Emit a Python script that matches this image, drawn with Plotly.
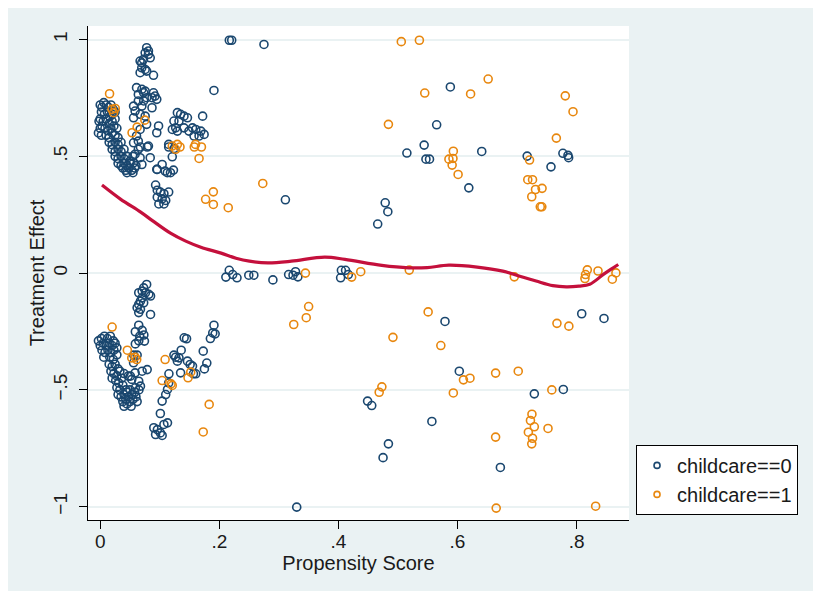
import plotly.graph_objects as go

# ---------------- data (propensity score, treatment effect) ----------------
# childcare == 0
cc0_upper = [
    (0.000, 0.72), (0.003, 0.71), (0.006, 0.73), (0.010, 0.72), (0.014, 0.71), (0.018, 0.72), (0.022, 0.70),
    (0.002, 0.69), (0.007, 0.68), (0.012, 0.69), (0.016, 0.67), (0.020, 0.68), (0.025, 0.69),
    (0.000, 0.66), (0.005, 0.65), (0.010, 0.66), (0.015, 0.64), (0.020, 0.65), (0.025, 0.66),
    (0.003, 0.63), (0.008, 0.62), (0.013, 0.61), (0.018, 0.62), (0.023, 0.63), (0.028, 0.62),
    (0.010, 0.59), (0.015, 0.58), (0.020, 0.60), (0.025, 0.59), (0.030, 0.58),
    (0.015, 0.56), (0.020, 0.55), (0.025, 0.56), (0.030, 0.55), (0.035, 0.56),
    (0.020, 0.53), (0.025, 0.52), (0.030, 0.53), (0.035, 0.52), (0.040, 0.53),
    (0.025, 0.50), (0.030, 0.49), (0.035, 0.50), (0.040, 0.49), (0.045, 0.50),
    (0.030, 0.47), (0.035, 0.46), (0.040, 0.47), (0.045, 0.46), (0.050, 0.47),
    (0.038, 0.45), (0.043, 0.44), (0.048, 0.45), (0.053, 0.44), (0.058, 0.45),
    (0.045, 0.43), (0.055, 0.43), (0.060, 0.46), (0.050, 0.48), (0.055, 0.50),
    (0.000, 0.62), (0.002, 0.59), (-0.002, 0.65), (-0.003, 0.60),
    (0.078, 0.965), (0.081, 0.951), (0.0755, 0.943), (0.0726, 0.915), (0.0698, 0.900), (0.067, 0.908),
    (0.0698, 0.879), (0.0755, 0.872), (0.078, 0.865), (0.067, 0.858), (0.0895, 0.847), (0.081, 0.937), (0.084, 0.922),
    (0.061, 0.794), (0.070, 0.787), (0.073, 0.772), (0.064, 0.765), (0.0755, 0.779), (0.0895, 0.772),
    (0.092, 0.758), (0.095, 0.744), (0.087, 0.751), (0.078, 0.751), (0.073, 0.737), (0.064, 0.737),
    (0.056, 0.715), (0.070, 0.715), (0.087, 0.708), (0.0586, 0.694), (0.067, 0.680), (0.0755, 0.672),
    (0.056, 0.665), (0.098, 0.630), (0.095, 0.601), (0.067, 0.615), (0.078, 0.637), (0.061, 0.587),
    (0.081, 0.544), (0.064, 0.565), (0.056, 0.558), (0.064, 0.530), (0.0586, 0.509), (0.067, 0.494),
    (0.084, 0.494), (0.056, 0.472), (0.070, 0.465), (0.095, 0.444), (0.109, 0.437), (0.104, 0.465),
    (0.0676, 0.540), (0.079, 0.540),
    (0.191, 0.782),
    (0.1296, 0.687), (0.135, 0.680), (0.1407, 0.672), (0.1465, 0.665), (0.1323, 0.651), (0.1238, 0.651),
    (0.1267, 0.622), (0.1211, 0.615), (0.1296, 0.608), (0.1407, 0.622), (0.149, 0.608),
    (0.155, 0.622), (0.1605, 0.615), (0.169, 0.608), (0.1745, 0.594), (0.166, 0.587), (0.1576, 0.587),
    (0.172, 0.672), (0.115, 0.551), (0.115, 0.540), (0.124, 0.533), (0.121, 0.498),
    (0.0958, 0.444), (0.1127, 0.430), (0.118, 0.430), (0.123, 0.441),
    (0.093, 0.377), (0.0958, 0.355), (0.101, 0.347), (0.107, 0.340), (0.115, 0.347), (0.0958, 0.325),
    (0.104, 0.318), (0.0985, 0.296), (0.107, 0.296), (0.110, 0.311),
    (0.2168, 0.997), (0.2208, 0.997), (0.275, 0.979), (0.311, 0.314),
    (0.515, 0.514), (0.4786, 0.301), (0.483, 0.263), (0.466, 0.210), (0.588, 0.797), (0.565, 0.635),
    (0.544, 0.548), (0.547, 0.488), (0.553, 0.488), (0.6407, 0.521), (0.619, 0.365), (0.717, 0.501),
    (0.757, 0.455), (0.777, 0.513), (0.7855, 0.504), (0.7866, 0.494),
]
cc0_zero = [
    (0.2167, 0.012), (0.211, -0.017), (0.2225, -0.006), (0.2297, -0.020), (0.2495, -0.009), (0.258, -0.009),
    (0.290, -0.029), (0.3164, -0.006), (0.3238, -0.009), (0.328, 0.006), (0.332, -0.016), (0.405, 0.012),
    (0.4037, -0.020), (0.412, 0.012), (0.4167, -0.006),
]
cc0_lower = [
    (0.078, -0.0485), (0.073, -0.063), (0.0704, -0.077), (0.0647, -0.084), (0.076, -0.084), (0.0816, -0.091),
    (0.0845, -0.098), (0.0704, -0.106), (0.0676, -0.120), (0.073, -0.127), (0.0647, -0.134), (0.062, -0.148),
    (0.0676, -0.155), (0.0647, -0.169), (0.0845, -0.177),
    (0.0647, -0.223), (0.059, -0.251), (0.0704, -0.245), (0.0664, -0.270), (0.0743, -0.291), (0.059, -0.303),
    (0.0563, -0.351), (0.062, -0.351), (0.0704, -0.420), (0.0789, -0.413), (0.0507, -0.441), (0.0647, -0.463),
    (0.059, -0.491), (0.0676, -0.484), (0.047, -0.441), (0.053, -0.455), (0.0586, -0.427), (0.056, -0.384),
    (0.0733, -0.265), (0.0648, -0.290),
    (-0.003, -0.29), (0.002, -0.28), (0.007, -0.27), (0.012, -0.28), (0.017, -0.27), (0.022, -0.29),
    (0.000, -0.31), (0.005, -0.30), (0.010, -0.31), (0.015, -0.30), (0.020, -0.31), (0.025, -0.30),
    (0.003, -0.33), (0.008, -0.34), (0.013, -0.33), (0.018, -0.34), (0.023, -0.33), (0.028, -0.32),
    (0.006, -0.36), (0.016, -0.36), (0.022, -0.37), (0.028, -0.35),
    (0.015, -0.39), (0.020, -0.40), (0.025, -0.39), (0.030, -0.41), (0.018, -0.42), (0.023, -0.43),
    (0.028, -0.44), (0.033, -0.42), (0.020, -0.45), (0.026, -0.46), (0.031, -0.47), (0.036, -0.45), (0.040, -0.43),
    (0.028, -0.49), (0.033, -0.50), (0.038, -0.48), (0.043, -0.50), (0.030, -0.52), (0.035, -0.53),
    (0.040, -0.52), (0.045, -0.51), (0.050, -0.50), (0.038, -0.55), (0.043, -0.54), (0.048, -0.53),
    (0.053, -0.52), (0.058, -0.51), (0.045, -0.56), (0.050, -0.55), (0.055, -0.54), (0.060, -0.53),
    (0.065, -0.50), (0.052, -0.57), (0.062, -0.55), (0.040, -0.57),
    (0.191, -0.223), (0.189, -0.256), (0.185, -0.280), (0.193, -0.260), (0.173, -0.334), (0.179, -0.385),
    (0.175, -0.410), (0.141, -0.277), (0.145, -0.281), (0.136, -0.330),
    (0.1238, -0.351), (0.1267, -0.360), (0.1296, -0.377), (0.1323, -0.363), (0.1465, -0.377), (0.151, -0.391),
    (0.155, -0.398), (0.1566, -0.431), (0.135, -0.427), (0.1154, -0.431), (0.1605, -0.431),
    (0.115, -0.470), (0.113, -0.498), (0.110, -0.520), (0.104, -0.548), (0.101, -0.601), (0.090, -0.662),
    (0.096, -0.670), (0.101, -0.684), (0.107, -0.648), (0.113, -0.641), (0.093, -0.691), (0.104, -0.695),
    (0.330, -1.002), (0.449, -0.548), (0.456, -0.567), (0.484, -0.731), (0.475, -0.790), (0.579, -0.207),
    (0.603, -0.420), (0.557, -0.635), (0.729, -0.517), (0.7777, -0.498), (0.672, -0.832), (0.8086, -0.174),
    (0.846, -0.194),
]

# childcare == 1
cc1_upper = [
    (0.0157, 0.768), (0.0198, 0.701), (0.0253, 0.705), (0.0225, 0.687), (0.075, 0.655), (0.062, 0.625),
    (0.0535, 0.601), (0.121, 0.544), (0.1295, 0.551), (0.1267, 0.530), (0.134, 0.540), (0.160, 0.551),
    (0.158, 0.540), (0.170, 0.540), (0.166, 0.491), (0.190, 0.348), (0.177, 0.316), (0.190, 0.294),
    (0.215, 0.280), (0.273, 0.384),
    (0.5056, 0.991), (0.536, 0.997), (0.484, 0.637), (0.545, 0.771), (0.622, 0.767), (0.6515, 0.831),
    (0.5856, 0.488), (0.593, 0.522), (0.5924, 0.491), (0.591, 0.4625), (0.601, 0.4225), (0.721, 0.484),
    (0.718, 0.400), (0.726, 0.400), (0.731, 0.358), (0.7247, 0.327), (0.742, 0.363), (0.739, 0.284),
    (0.7416, 0.284), (0.766, 0.578), (0.781, 0.759), (0.794, 0.691),
]
cc1_zero = [
    (0.3446, 0.000), (0.4223, -0.017), (0.4375, 0.006), (0.519, 0.013), (0.6954, -0.016), (0.818, 0.014),
    (0.815, -0.006), (0.814, -0.023), (0.836, 0.009), (0.860, -0.026), (0.866, 0.001),
]
cc1_lower = [
    (0.020, -0.231), (0.0456, -0.330), (0.053, -0.363), (0.0613, -0.370), (0.0586, -0.360), (0.109, -0.370),
    (0.104, -0.460), (0.119, -0.474), (0.121, -0.481), (0.1475, -0.448), (0.152, -0.424), (0.183, -0.562),
    (0.173, -0.680), (0.350, -0.143), (0.346, -0.191), (0.325, -0.220), (0.4916, -0.275), (0.473, -0.487),
    (0.4685, -0.510), (0.5507, -0.166), (0.572, -0.310), (0.610, -0.457), (0.621, -0.450), (0.593, -0.513),
    (0.664, -0.428), (0.702, -0.420), (0.7584, -0.500), (0.725, -0.604), (0.7225, -0.631), (0.729, -0.658),
    (0.719, -0.681), (0.726, -0.707), (0.7247, -0.731), (0.752, -0.665), (0.664, -0.702), (0.665, -1.006),
    (0.832, -0.998), (0.767, -0.215), (0.787, -0.227),
]

# lowess smooth of treatment effect on propensity score
smooth_ps = [0.003, 0.034, 0.068, 0.087, 0.118, 0.1436, 0.169, 0.203, 0.228, 0.2505, 0.2816, 0.321,
             0.377, 0.411, 0.473, 0.518, 0.549, 0.5856, 0.633, 0.676, 0.709, 0.732, 0.760, 0.7826,
             0.804, 0.822, 0.845, 0.858, 0.870]
smooth_te = [0.377, 0.317, 0.261, 0.226, 0.171, 0.137, 0.111, 0.0857, 0.064, 0.051, 0.044, 0.051,
             0.0685, 0.0587, 0.033, 0.0227, 0.0236, 0.034, 0.0257, 0.0086, -0.017, -0.034, -0.0535, -0.0587,
             -0.0557, -0.048, -0.0056, 0.017, 0.037]

x_ticks = [0, 0.2, 0.4, 0.6, 0.8]
x_ticktext = ["0", ".2", ".4", ".6", ".8"]
y_ticks = [-1, -0.5, 0, 0.5, 1]
y_ticktext = ["\u22121", "\u2212.5", "0", ".5", "1"]
series_names = ["childcare==0", "childcare==1"]

# ---------------- styling ----------------
NAVY = "#1A476F"
ORANGE = "#E8870E"
RED = "#C4103C"
BG = "#EAF2F3"
FONT = "Liberation Sans, Arial, sans-serif"

cc0 = cc0_upper + cc0_zero + cc0_lower
cc1 = cc1_upper + cc1_zero + cc1_lower

fig = go.Figure()
for pts, col, name in [(cc0, NAVY, series_names[0]), (cc1, ORANGE, series_names[1])]:
    fig.add_trace(go.Scatter(
        x=[p[0] for p in pts], y=[p[1] for p in pts], mode="markers", name=name,
        showlegend=False,
        marker=dict(symbol="circle-open", size=8, color=col, line=dict(width=1.6, color=col)),
    ))
    # legend entry (smaller symbol as in the reference)
    fig.add_trace(go.Scatter(
        x=[None], y=[None], mode="markers", name=name,
        marker=dict(symbol="circle-open", size=6, color=col, line=dict(width=1.6, color=col)),
    ))

fig.add_trace(go.Scatter(
    x=smooth_ps, y=smooth_te, mode="lines", showlegend=False,
    line=dict(color=RED, width=3.2, shape="spline", smoothing=1.0),
))

fig.add_shape(type="line", xref="paper", x0=0, x1=1, yref="y", y0=0, y1=0,
              line=dict(color=RED, width=1.4), layer="below")

fig.update_layout(
    width=805, height=583,
    margin=dict(l=80, r=184, t=18, b=71),
    paper_bgcolor=BG, plot_bgcolor="white",
    font=dict(family=FONT, size=19, color="#1a1a1a"),
    showlegend=True,
    legend=dict(x=1.013, y=0.152, xanchor="left", yanchor="top",
                bgcolor="white", bordercolor="black", borderwidth=1,
                font=dict(size=20, color="#1a1a1a"), itemsizing="trace",
                tracegroupgap=0),
    xaxis=dict(range=[-0.0205, 0.888], tickvals=x_ticks, ticktext=x_ticktext,
               ticklabelstandoff=-4,
               showgrid=False, zeroline=False, showline=True, linecolor="black", linewidth=1.3,
               ticks="outside", ticklen=8, tickwidth=1.3, tickcolor="black",
               title=dict(text="Propensity Score", standoff=0, font=dict(size=20))),
    yaxis=dict(range=[-1.057, 1.058], tickvals=y_ticks, ticktext=y_ticktext, tickangle=-90,
               ticklabelstandoff=4,
               showgrid=True, gridcolor=BG, gridwidth=1.5, zeroline=False,
               showline=True, linecolor="black", linewidth=1.3,
               ticks="outside", ticklen=8, tickwidth=1.3, tickcolor="black",
               title=dict(text="Treatment Effect", standoff=0, font=dict(size=20))),
)

fig.write_html("out.html")
